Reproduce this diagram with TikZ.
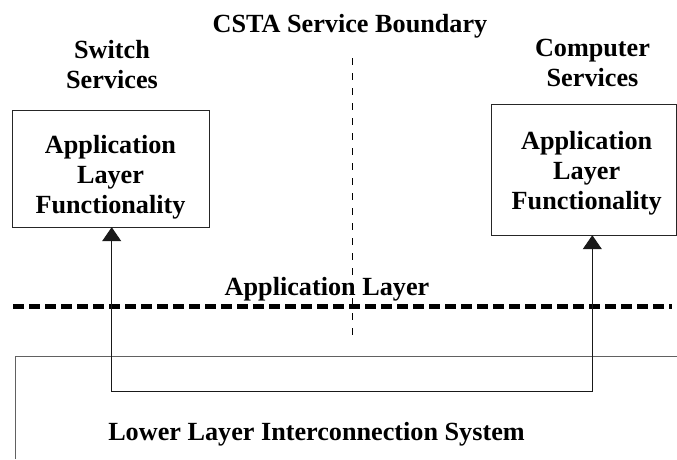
\documentclass[tikz,border=0pt]{standalone}
\usepackage{fontspec}
\setmainfont{Liberation Serif}
\usetikzlibrary{arrows.meta}
\begin{document}
\begin{tikzpicture}[x=1pt,y=-1pt,
  lbl/.style={font=\bfseries\fontsize{26.2}{30}\selectfont, align=center, anchor=base, inner sep=0pt},
  funcbox/.style={draw=black!85, line width=1pt},
  link/.style={draw=black!90, line width=1pt},
  tip/.style={-{Triangle[length=14pt,width=19pt]}},
  lowsys/.style={draw=black!62, line width=1.5pt},
  boundary/.style={draw=black, line width=0.9pt, dash pattern=on 7pt off 8pt},
  layerline/.style={draw=black, line width=4.5pt, dash pattern=on 11pt off 5pt}]
\useasboundingbox (0,0) rectangle (677,459);

% service boundary and application layer line
\draw[boundary] (352.7,58) -- (352.7,338);
\draw[layerline] (13,306.7) -- (672,306.7);

% functional boxes
\path[funcbox] (12,110.5) rectangle (209,227);
\node[inner sep=0pt, minimum width=197pt, minimum height=116.5pt] (lbox) at (110.5,168.75) {};
\path[funcbox] (491.5,104) rectangle (676.5,235);
\node[inner sep=0pt, minimum width=185pt, minimum height=131pt] (rbox) at (584,169.5) {};

% multi-line labels sit on the baseline of their last line
\node[lbl] (lfun) at (110.5,213) {Application\\Layer\\Functionality};
\node[lbl] (rfun) at (586.7,209) {Application\\Layer\\Functionality};

% titles
\node[lbl] (title) at (350,32) {CSTA Service Boundary};
\node[lbl] (sw) at (112,88) {Switch\\Services};
\node[lbl] (cs) at (592.5,86) {Computer\\Services};
\node[lbl] (al) at (327,295) {Application Layer};
\node[lbl] (ll) at (316.5,440) {Lower Layer Interconnection System};

% lower layer system outline
\coordinate (lowc) at (15.7,356.7);
\coordinate (lowb) at (15.7,459);
\coordinate (lowr) at (677,356.7);
\draw[lowsys] (lowb) -- (lowc) -- (lowr);

% connection between the two functional boxes
\coordinate (bl) at (111.7,391.7);
\coordinate (br) at (592.3,391.7);
\draw[link] (bl) -- (br);
\draw[link,tip] (bl) -- (bl |- lbox.south);
\draw[link,tip] (br) -- (br |- rbox.south);
\end{tikzpicture}
\end{document}
